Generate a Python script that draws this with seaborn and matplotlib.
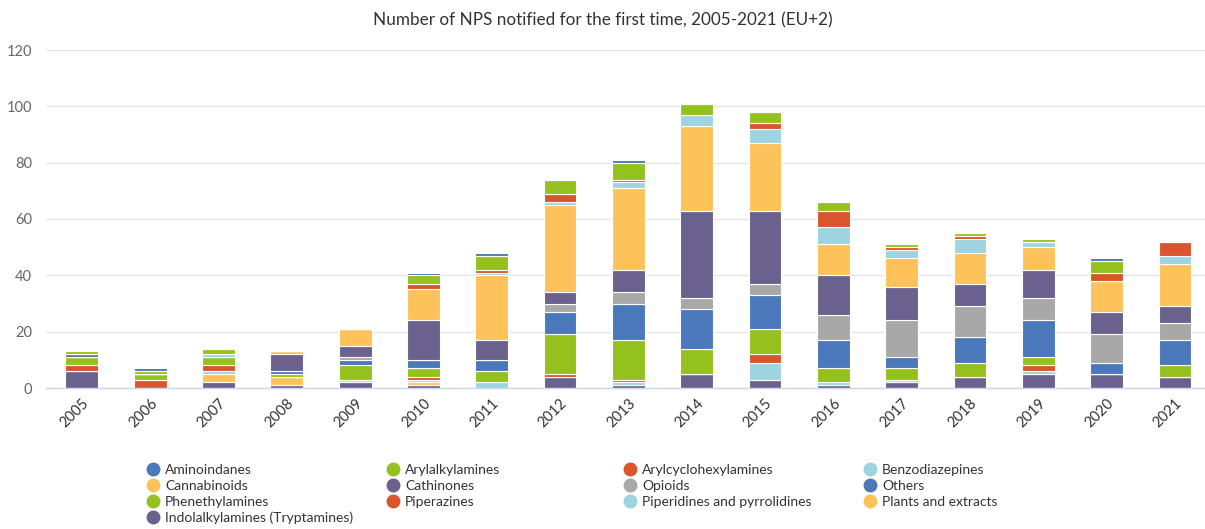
import matplotlib
matplotlib.use("Agg")
import matplotlib.pyplot as plt
from matplotlib.lines import Line2D
import seaborn as sns
import pandas as pd

years = list(range(2005, 2022))
categories = [
    "Aminoindanes", "Arylalkylamines", "Arylcyclohexylamines", "Benzodiazepines",
    "Cannabinoids", "Cathinones", "Opioids", "Others",
    "Phenethylamines", "Piperazines", "Piperidines and pyrrolidines", "Plants and extracts",
    "Indolalkylamines (Tryptamines)",
]

aminoindanes = [0, 1, 0, 0, 0, 1, 1, 0, 1, 0, 0, 0, 0, 0, 0, 1, 0]
arylalkylamines = [1, 1, 2, 0, 0, 3, 5, 5, 6, 4, 4, 3, 1, 1, 1, 4, 0]
arylcyclohexylamines = [0, 0, 0, 0, 0, 2, 1, 3, 1, 0, 2, 6, 1, 1, 0, 3, 5]
benzodiazepines = [0, 0, 1, 0, 0, 0, 1, 1, 2, 4, 5, 6, 3, 5, 2, 0, 3]
cannabinoids = [0, 0, 0, 1, 6, 11, 23, 31, 29, 30, 24, 11, 10, 11, 8, 11, 15]
cathinones = [1, 0, 0, 6, 4, 14, 7, 4, 8, 31, 26, 14, 12, 8, 10, 8, 6]
opioids = [0, 0, 0, 0, 1, 0, 0, 3, 4, 4, 4, 9, 13, 11, 8, 10, 6]
others = [0, 0, 0, 1, 2, 3, 4, 8, 13, 14, 12, 10, 4, 9, 13, 4, 9]
phenethylamines = [3, 2, 3, 1, 5, 3, 4, 14, 14, 9, 9, 5, 4, 5, 3, 0, 4]
piperazines = [2, 3, 2, 0, 0, 1, 0, 1, 1, 0, 3, 0, 0, 0, 2, 0, 0]
piperidines = [0, 0, 1, 0, 1, 1, 2, 0, 1, 0, 6, 1, 1, 0, 1, 0, 0]
plants = [0, 0, 3, 3, 0, 1, 0, 0, 0, 0, 0, 0, 0, 0, 0, 0, 0]
indolalkylamines = [6, 0, 2, 1, 2, 1, 0, 4, 1, 5, 3, 1, 2, 4, 5, 5, 4]

series = [aminoindanes, arylalkylamines, arylcyclohexylamines, benzodiazepines,
          cannabinoids, cathinones, opioids, others,
          phenethylamines, piperazines, piperidines, plants, indolalkylamines]

PURPLE = "#6a618f"
BLUE = "#4a78ba"
GREEN = "#95c11f"
RED = "#d9552b"
LBLUE = "#9dd4e0"
YELLOW = "#fdc35a"
GRAY = "#a8a8a8"
colors = [BLUE, GREEN, RED, LBLUE, YELLOW, PURPLE, GRAY, BLUE,
          GREEN, RED, LBLUE, YELLOW, PURPLE]
palette = dict(zip(categories, colors))

rows = []
for cat, vals in zip(categories, series):
    for y, v in zip(years, vals):
        rows.append({"year": y, "category": cat, "count": v})
df = pd.DataFrame(rows)

sns.set_style("white")
plt.rcParams["font.family"] = ["Lato", "DejaVu Sans"]

fig = plt.figure(figsize=(12.05, 5.29), dpi=100)
ax = fig.add_axes([46 / 1205, 1 - 388 / 529, 1 - 46 / 1205, (388 - 50) / 529])

sns.histplot(data=df, x="year", weights="count", hue="category",
             hue_order=categories, palette=palette, multiple="stack",
             discrete=True, shrink=0.48, edgecolor="white", linewidth=0.8,
             alpha=1, legend=False, ax=ax)

ax.set_ylim(0, 120)
ax.set_xlim(2004.475, 2021.44)
ax.set_yticks(range(0, 121, 20))
ax.set_xticks(years)
ax.set_xticklabels([str(y) for y in years], rotation=45, ha="right",
                   rotation_mode="anchor", fontsize=10.5, color="#333333")
ax.tick_params(axis="y", labelsize=10.5, colors="#666666", length=0, pad=10)
ax.tick_params(axis="x", length=0, pad=6)
ax.set_xlabel("")
ax.set_ylabel("")
ax.grid(axis="y", color="#e6e6e6", linewidth=1)
ax.set_axisbelow(True)
for s in ["top", "right", "left"]:
    ax.spines[s].set_visible(False)
ax.spines["bottom"].set_color("#ccd6eb")
ax.spines["bottom"].set_linewidth(1)

fig.text(0.5, 1 - 20 / 529, "Number of NPS notified for the first time, 2005-2021 (EU+2)",
         ha="center", va="center", fontsize=12.3, color="#333333")

# legend: row-wise layout in 4 columns
col_x = [140, 380, 617, 857]
for c in range(4):
    idx = [i for i in range(len(categories)) if i % 4 == c]
    handles = [Line2D([0], [0], marker="o", linestyle="", markersize=9,
                      markerfacecolor=colors[i], markeredgecolor=colors[i])
               for i in idx]
    labels = [categories[i] for i in idx]
    fig.legend(handles, labels, loc="upper left",
               bbox_to_anchor=(col_x[c] / 1205, 1 - 457 / 529),
               frameon=False, fontsize=10, handlelength=0.8,
               handletextpad=0.5, labelspacing=0.28, borderpad=0,
               labelcolor="#333333")

fig.savefig("out.png", dpi=100)
